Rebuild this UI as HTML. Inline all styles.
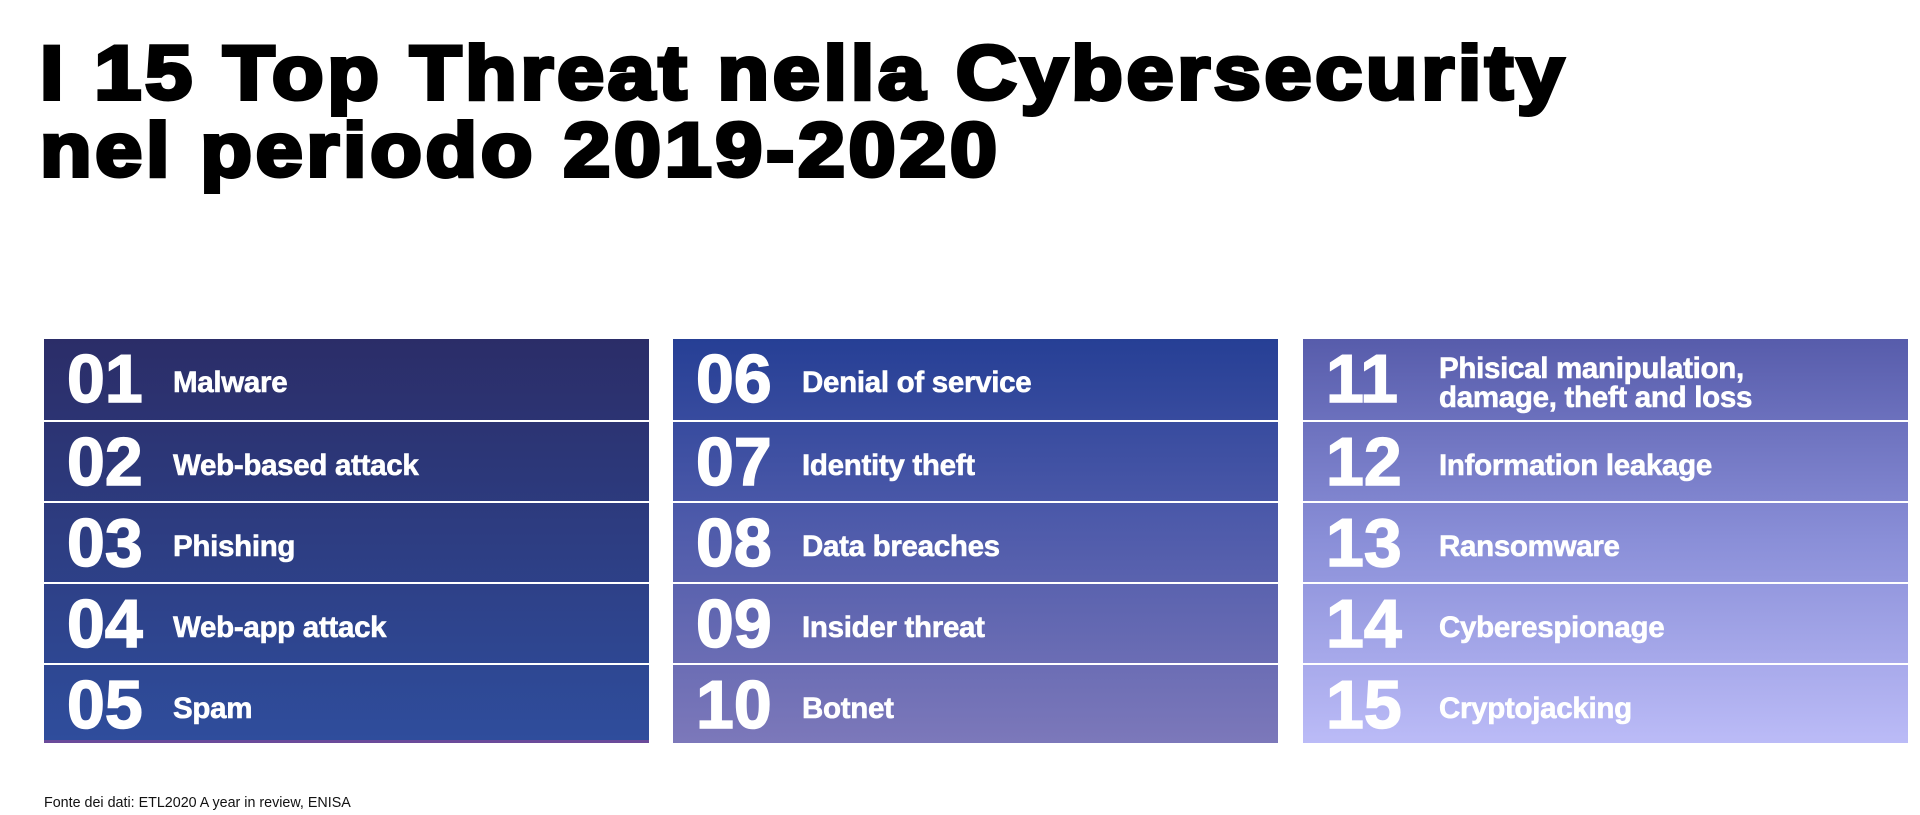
<!DOCTYPE html>
<html><head><meta charset="utf-8"><style>
body{margin:0;width:1920px;height:815px;background:#fff;position:relative;overflow:hidden;font-family:"Liberation Sans",sans-serif}
.t{position:absolute;left:40px;font-weight:bold;font-size:76px;color:#000;-webkit-text-stroke:4px #000;white-space:nowrap;letter-spacing:3.4px;line-height:1;transform:scaleX(1.11);transform-origin:0 0}
.col{position:absolute;top:339px;width:605px;height:404px}
.row{position:absolute;left:0;width:605px;height:79px;color:#fff}
.n{position:absolute;left:23px;top:4px;font-size:68px;font-weight:bold;letter-spacing:0px;line-height:72px;-webkit-text-stroke:1.5px #fff}
.l{position:absolute;left:129px;top:4px;height:79px;display:flex;align-items:center;font-weight:bold;font-size:29.5px;line-height:29px;letter-spacing:-0.3px;-webkit-text-stroke:0.6px #fff;white-space:nowrap}
.c3 .l{left:136px}
.f{position:absolute;left:44px;top:795px;font-size:14.3px;color:#111}
</style></head><body>
<div class="t" style="top:36px">I 15 Top Threat nella Cybersecurity</div>
<div class="t" style="top:113px">nel periodo 2019-2020</div>

<div class="col" style="left:44px;background:linear-gradient(#2b2d68,#2f4d9c);border-bottom:3px solid #6a4a9a;height:401px">
<div class="row" style="top:0"><div class="n">01</div><div class="l">Malware</div></div>
<div class="row" style="top:81px;border-top:2px solid #fff"><div class="n">02</div><div class="l">Web-based attack</div></div>
<div class="row" style="top:162px;border-top:2px solid #fff"><div class="n">03</div><div class="l">Phishing</div></div>
<div class="row" style="top:243px;border-top:2px solid #fff"><div class="n">04</div><div class="l">Web-app attack</div></div>
<div class="row" style="top:324px;border-top:2px solid #fff"><div class="n">05</div><div class="l">Spam</div></div>
</div>

<div class="col" style="left:673px;background:linear-gradient(#263f95,#4d5aaa 45%,#7c78ba)">
<div class="row" style="top:0"><div class="n">06</div><div class="l">Denial of service</div></div>
<div class="row" style="top:81px;border-top:2px solid #fff"><div class="n">07</div><div class="l">Identity theft</div></div>
<div class="row" style="top:162px;border-top:2px solid #fff"><div class="n">08</div><div class="l">Data breaches</div></div>
<div class="row" style="top:243px;border-top:2px solid #fff"><div class="n">09</div><div class="l">Insider threat</div></div>
<div class="row" style="top:324px;border-top:2px solid #fff"><div class="n">10</div><div class="l">Botnet</div></div>
</div>

<div class="col c3" style="left:1303px;background:linear-gradient(#575cab,#8a8fd8 50%,#bbbbf7)">
<div class="row" style="top:0"><div class="n">11</div><div class="l">Phisical manipulation,<br>damage, theft and loss</div></div>
<div class="row" style="top:81px;border-top:2px solid #fff"><div class="n">12</div><div class="l">Information leakage</div></div>
<div class="row" style="top:162px;border-top:2px solid #fff"><div class="n">13</div><div class="l">Ransomware</div></div>
<div class="row" style="top:243px;border-top:2px solid #fff"><div class="n">14</div><div class="l">Cyberespionage</div></div>
<div class="row" style="top:324px;border-top:2px solid #fff"><div class="n">15</div><div class="l">Cryptojacking</div></div>
</div>

<div class="f">Fonte dei dati: ETL2020 A year in review, ENISA</div>
</body></html>
